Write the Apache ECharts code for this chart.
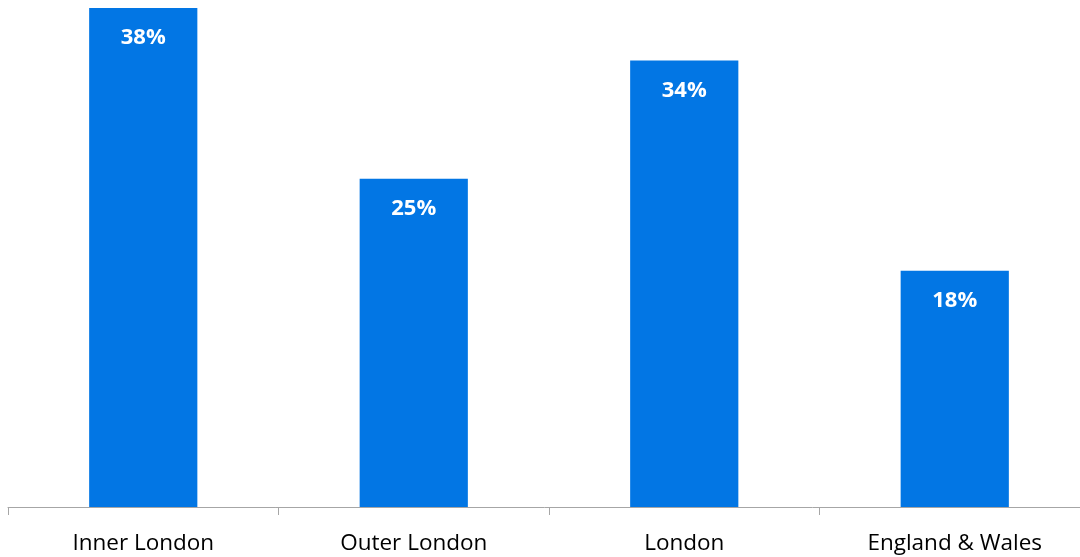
<!DOCTYPE html>
<html>
<head>
<meta charset="utf-8">
<script src="https://cdn.jsdelivr.net/npm/echarts@6/dist/echarts.min.js"></script>
<style>
  html, body { margin: 0; padding: 0; background: #ffffff; }
  #chart { width: 1080px; height: 557px; }
</style>
</head>
<body>
<div id="chart"></div>
<script>
// Share of residents, by area (%)
const categories = ['Inner London', 'Outer London', 'London', 'England & Wales'];
const shares = [38, 25, 34, 18];

const chart = echarts.init(document.getElementById('chart'), null, { renderer: 'canvas' });

chart.setOption({
  animation: false,
  grid: {
    left: 8, right: -10, top: 8, bottom: 50,
    containLabel: false,
    outerBoundsMode: 'none'
  },
  xAxis: {
    type: 'category',
    data: categories,
    boundaryGap: true,
    axisLine: { show: true, lineStyle: { color: '#A6A6A6', width: 1 } },
    axisTick: { show: true, alignWithLabel: false, length: 8, lineStyle: { color: '#A6A6A6', width: 1 } },
    axisLabel: {
      color: '#000000',
      fontFamily: 'Open Sans',
      fontSize: 22.5,
      margin: 25
    }
  },
  yAxis: {
    type: 'value',
    min: 0,
    max: 38,
    show: false,
    splitLine: { show: false }
  },
  series: [{
    type: 'bar',
    data: shares,
    barCategoryGap: '60%',
    itemStyle: { color: '#0276E4' },
    label: {
      show: true,
      position: 'insideTop',
      distance: 19,
      formatter: p => p.value + '%',
      color: '#ffffff',
      fontFamily: 'Open Sans',
      fontWeight: 'bold',
      fontSize: 22
    }
  }]
});
</script>
</body>
</html>
